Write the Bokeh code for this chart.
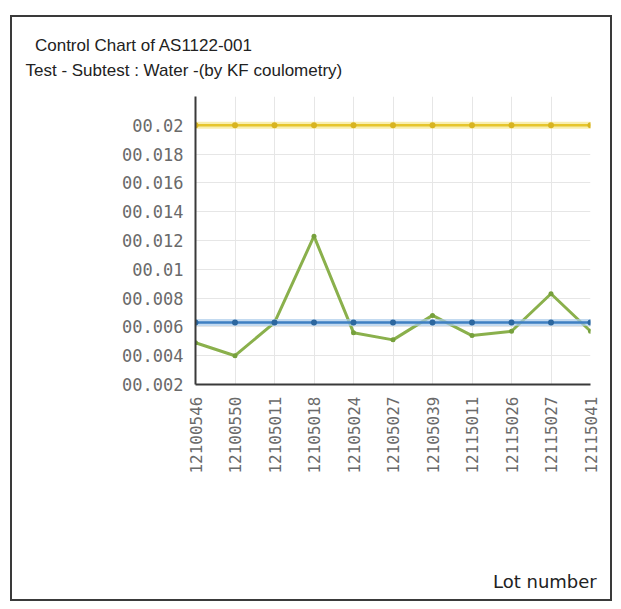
from bokeh.plotting import figure
from bokeh.models import Range1d, FixedTicker, Title, Div
from bokeh.layouts import column
from bokeh.embed import file_html
from bokeh.resources import INLINE
from math import pi

# ---- data ----
lots = ["12100546", "12100550", "12105011", "12105018", "12105024", "12105027",
        "12105039", "12115011", "12115026", "12115027", "12115041"]
water = [0.0049, 0.0040, 0.0063, 0.0123, 0.0056, 0.0051,
         0.0068, 0.0054, 0.0057, 0.0083, 0.0057]
mean_val = [0.0063] * len(lots)
limit_val = [0.020] * len(lots)
yticks = [0.002, 0.004, 0.006, 0.008, 0.010, 0.012, 0.014, 0.016, 0.018, 0.020]
ytick_labels = ["00.002", "00.004", "00.006", "00.008", "00.01", "00.012",
                "00.014", "00.016", "00.018", "00.02"]
title1 = "Control Chart of AS1122-001"
title2 = "Test - Subtest : Water -(by KF coulometry)"
xlabel = "Lot number"

xs = list(range(len(lots)))

p = figure(width=602, height=586, output_backend="svg", toolbar_location=None,
           x_range=Range1d(0, len(lots) - 1), y_range=Range1d(0.002, 0.022),
           min_border_left=183, min_border_right=24, min_border_top=78,
           min_border_bottom=219)
p.styles = {"border": "2px solid #3a3a3a", "margin-left": "10px", "margin-top": "15px"}
p.outline_line_color = None
p.background_fill_color = "white"

# axes
p.xaxis.ticker = FixedTicker(ticks=xs)
p.xaxis.major_label_overrides = {i: l for i, l in enumerate(lots)}
p.xaxis.major_label_orientation = pi / 2
p.yaxis.ticker = FixedTicker(ticks=yticks)
p.yaxis.major_label_overrides = {t: l for t, l in zip(yticks, ytick_labels)}
for ax in (p.xaxis, p.yaxis):
    ax.axis_line_color = "#3a3a3a"
    ax.axis_line_width = 2
    ax.major_tick_line_color = None
    ax.minor_tick_line_color = None
    ax.major_label_text_font = "DejaVu Sans Mono"
    ax.major_label_text_color = "#6a6a6a"
p.xaxis.major_label_text_font_size = "16px"
p.xaxis.major_label_standoff = 6
p.yaxis.major_label_text_font_size = "17px"
p.yaxis.major_label_standoff = 6

p.xgrid.grid_line_color = "#e6e6e6"
p.ygrid.grid_line_color = "#e6e6e6"

# limit line (yellow)
p.line(xs, limit_val, line_color="#f3e27a", line_width=7, line_alpha=0.6)
p.line(xs, limit_val, line_color="#e6c52c", line_width=2.5)
p.scatter(xs, limit_val, size=6, fill_color="#d8b420", line_color=None)

# measured values (green)
p.line(xs, water, line_color="#8ab04c", line_width=3)
p.scatter(xs, water, size=5, fill_color="#76a03c", line_color=None)

# mean line (blue)
p.line(xs, mean_val, line_color="#a9cbe9", line_width=7, line_alpha=0.7)
p.line(xs, mean_val, line_color="#3f80c2", line_width=2.5)
p.scatter(xs, mean_val, size=6, fill_color="#2c679f", line_color=None)

# two-line title
p.add_layout(Title(text="\u00a0\u00a0" + title1 + "\n" + title2, align="left",
                   offset=-170, standoff=33, text_line_height=1.3,
                   text_font="Liberation Sans", text_font_size="17px",
                   text_font_style="normal", text_color="#222222"), "above")

# x-axis caption at the lower right of the box
cap = Div(text=xlabel, width=110, height=22,
          styles={"margin-top": "-32px", "margin-left": "493px",
                  "font-family": "DejaVu Sans", "font-size": "18px",
                  "color": "#222222", "white-space": "nowrap"})

layout = column(p, cap)
open("out.html", "w").write(file_html(layout, INLINE))
